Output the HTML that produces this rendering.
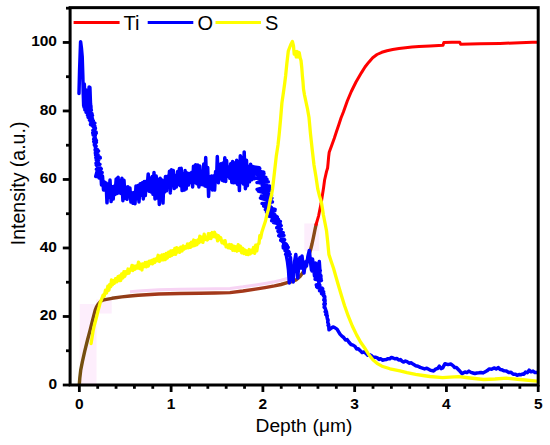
<!DOCTYPE html>
<html><head><meta charset="utf-8"><style>
html,body{margin:0;padding:0;background:#fff;}
body{width:550px;height:445px;overflow:hidden;}
svg{display:block;}
text{font-family:"Liberation Sans",sans-serif;fill:#000;}
.tk{font-weight:bold;font-size:15.5px;}
</style></head><body>
<svg width="550" height="445" viewBox="0 0 550 445">
<defs>
<linearGradient id="tig" gradientUnits="userSpaceOnUse" x1="79" y1="0" x2="317" y2="0">
<stop offset="0" stop-color="#72500f"/>
<stop offset="0.12" stop-color="#864014"/>
<stop offset="0.3" stop-color="#a3381a"/>
<stop offset="0.8" stop-color="#a3381a"/>
<stop offset="0.92" stop-color="#8a4a18"/>
<stop offset="1" stop-color="#8a4a18"/>
</linearGradient>
</defs>
<rect x="0" y="0" width="550" height="445" fill="#fff"/>
<!-- pink highlights -->
<rect x="79.7" y="304" width="16.8" height="80" fill="#fdeefc"/><rect x="96.2" y="299.5" width="15.5" height="14" fill="#fdeefc"/>
<rect x="304.3" y="223.5" width="15" height="27.5" fill="#fdeefc"/>
<polyline points="130.0,291.8 138.2,291.1 158.9,289.8 180.0,289.3 200.0,289.0 215.0,288.8 230.0,288.4 243.0,286.8 255.5,284.9 265.0,283.4 274.5,281.7 281.0,280.3 287.3,278.5" fill="none" stroke="#f7d4f4" stroke-width="3"/>
<!-- curves -->
<polyline points="79.3,384.5 79.8,378.0 80.7,370.2 82.4,361.6 84.8,350.8 87.5,340.0 90.1,330.3 92.6,320.2 95.2,310.1 96.7,306.5 98.2,304.0 99.7,302.3 101.2,301.0 104.0,299.8 106.5,299.3 112.0,298.3 121.8,296.9 130.0,296.0 138.2,295.3 158.9,294.0 180.0,293.5 200.0,293.2 215.0,293.0 230.0,292.6 243.0,291.0 255.5,289.1 265.0,287.6 274.5,285.9 281.0,284.5 287.3,282.7 292.0,281.5 296.0,280.0 300.0,276.5 303.6,271.4 306.0,265.0 308.0,258.0 310.5,250.0 312.0,244.0 313.5,237.0 314.9,230.0 316.1,224.5" fill="none" stroke="url(#tig)" stroke-width="3.4" stroke-linejoin="round" stroke-linecap="round"/>
<polyline points="316.1,224.5 318.6,215.8 321.1,203.4 323.6,187.4 324.6,180.0 326.5,171.6 327.6,168.0 328.1,163.0 328.7,156.2 329.2,152.3 331.5,146.1 334.3,138.2 336.5,131.5 338.8,124.7 341.0,118.0 343.4,112.0 347.3,101.0 351.3,91.5 356.0,82.0 361.5,72.6 365.0,67.0 368.6,62.4 372.7,57.7 377.0,54.5 381.8,52.3 387.0,50.7 392.7,49.5 399.0,48.5 405.5,47.7 412.0,47.0 419.0,46.5 430.0,45.9 443.0,45.2 443.8,42.6 452.0,42.3 459.8,42.3 460.6,44.3 480.0,43.8 500.0,43.4 520.0,42.8 532.7,42.3 537.0,42.2" fill="none" stroke="#ff0000" stroke-width="3" stroke-linejoin="round" stroke-linecap="round"/>
<polyline points="79.0,93.5 79.6,70.0 80.6,41.8 81.4,48.0 82.2,57.0 82.8,75.0 83.3,95.0 83.7,106.0 84.3,84.0 85.0,100.0 85.6,108.0 86.2,90.0 86.9,112.0 87.5,98.0 88.4,106.0 89.1,87.0 89.9,87.5 90.5,104.0 91.0,108.0 84.3,104.0 91.0,106.3 84.1,107.2 90.9,106.7 84.9,109.9 91.4,110.1 85.9,110.8 91.9,113.6 86.1,112.3 90.6,113.5 87.5,115.2 92.5,115.4 88.2,117.5 92.4,118.5 89.5,120.2 93.3,120.7 90.3,121.3 94.8,123.1 90.5,124.5 94.8,126.2 92.6,126.0 95.3,128.0 92.9,130.2 95.4,128.6 92.8,132.6 96.1,132.1 92.9,133.5 96.3,133.2 93.2,135.0 95.3,135.6 93.7,139.0 95.5,138.5 93.8,141.4 96.4,140.6 94.1,142.5 96.4,142.2 94.4,144.9 96.1,146.2 94.9,145.9 96.3,149.7 95.1,149.6 97.4,149.5 95.3,150.6 98.6,151.1 95.4,153.1 98.0,154.7 95.5,154.7 100.0,157.3 95.8,157.6 100.3,158.0 97.1,158.4 98.5,160.3 96.2,159.7 98.5,163.3 96.0,163.1 99.9,164.5 96.2,164.8 98.9,168.0 97.7,168.9 101.3,168.7 96.4,169.3 101.0,172.3 98.8,173.4 102.1,172.5 97.3,173.4 100.8,176.5 95.7,176.5 97.5,170.0 99.0,178.0 100.5,168.0 101.5,185.0 102.5,176.0 103.5,190.0 104.2,181.7 105.0,189.4 106.1,182.9 107.0,202.8 108.1,183.9 109.1,197.2 110.0,180.0 111.1,201.6 112.3,186.7 113.2,199.1 114.0,186.3 115.0,194.6 116.2,178.9 117.1,193.5 118.1,177.2 119.0,192.8 119.9,180.8 120.9,193.4 121.9,178.3 122.9,200.7 124.0,180.3 125.1,198.3 126.1,187.3 127.0,199.3 127.9,186.7 128.9,196.3 129.9,187.9 130.9,202.1 131.9,192.8 133.0,203.3 133.9,192.4 135.0,203.7 136.0,185.9 136.8,198.8 138.0,185.6 139.0,202.0 140.2,183.7 141.2,195.2 142.3,182.7 143.3,199.0 144.2,181.6 145.3,195.6 146.2,181.3 147.0,189.3 148.2,173.9 149.0,191.2 149.9,178.0 151.0,191.9 152.2,176.5 153.0,194.3 154.0,172.6 155.0,198.9 156.2,176.1 157.2,198.0 158.3,179.4 159.3,204.5 160.2,178.3 161.1,196.8 162.0,179.9 163.0,203.1 163.8,182.0 164.7,192.0 165.5,176.4 166.5,190.8 167.5,176.3 168.4,186.6 169.5,171.2 170.3,192.9 171.4,169.8 172.3,184.4 173.3,170.6 174.2,188.6 175.2,175.6 176.4,186.9 177.6,171.4 178.4,184.2 179.4,168.5 180.2,185.7 181.2,168.2 182.1,190.6 183.1,174.3 184.2,190.1 185.1,170.5 186.2,189.0 187.3,172.9 188.4,185.1 189.4,173.5 190.6,182.5 191.7,172.3 192.6,187.0 193.5,166.2 194.6,182.5 195.6,164.8 196.8,183.7 197.8,165.0 198.9,186.9 199.8,166.1 200.9,184.4 201.8,171.4 202.9,184.8 203.8,163.9 204.9,185.9 205.7,157.6 206.7,186.6 207.7,167.5 208.6,196.4 209.5,176.5 210.3,186.6 211.5,176.1 212.4,189.9 213.4,175.9 214.6,190.1 215.6,171.5 216.5,181.4 217.3,156.6 218.3,182.8 219.2,165.0 220.0,176.4 220.9,163.8 222.0,180.2 223.0,162.9 223.9,181.1 224.8,157.8 225.7,181.4 226.6,160.6 227.5,176.4 228.7,167.0 229.8,178.3 230.7,163.7 231.8,182.4 232.6,161.4 233.6,182.8 234.7,163.0 235.7,182.7 236.7,160.2 237.6,184.4 238.5,168.7 239.4,190.6 240.3,155.8 241.2,182.2 242.3,157.4 243.3,184.0 244.2,151.9 245.4,188.7 246.5,160.2 247.4,185.7 248.3,166.3 249.5,181.8 250.6,164.2 251.6,179.8 252.8,166.6 254.0,178.8 251.4,166.5 259.2,167.8 252.0,168.8 259.8,168.6 253.6,170.2 263.7,172.1 252.7,171.6 264.0,173.7 254.6,173.5 265.8,177.3 258.3,177.0 267.0,179.4 254.6,177.8 265.8,180.1 257.0,182.6 268.3,181.8 257.7,182.4 266.3,184.6 262.1,185.0 269.5,186.0 257.1,189.4 270.2,188.3 259.5,191.6 270.3,190.2 258.3,191.1 270.8,194.5 261.4,196.1 271.5,195.1 262.3,196.0 271.9,198.2 260.4,198.1 272.4,201.9 266.4,200.5 270.0,203.4 262.0,203.4 269.4,203.6 266.9,204.1 271.4,207.4 263.7,206.1 275.1,209.5 265.3,209.4 274.9,210.8 266.5,212.0 274.7,214.7 271.6,213.3 277.3,217.0 268.8,216.2 278.4,219.3 272.1,219.7 277.7,220.6 271.6,220.8 280.4,221.6 273.5,222.5 280.2,224.1 276.9,227.4 281.2,225.7 276.8,227.9 281.4,229.3 278.0,231.2 282.2,232.4 278.4,232.0 283.2,232.8 278.8,235.7 284.0,235.4 280.0,236.3 284.6,239.8 280.7,240.2 284.2,239.2 281.2,240.6 286.3,244.2 283.6,243.8 286.0,246.2 283.1,246.1 287.3,245.6 283.3,247.9 288.2,247.3 284.8,248.8 289.0,251.7 285.0,250.7 289.4,253.4 285.6,254.4 290.2,254.3 286.5,256.4 287.5,262.0 288.5,270.0 289.3,283.0 290.5,257.5 291.5,279.0 292.5,270.0 293.2,282.0 294.5,262.0 295.8,254.5 296.8,266.0 297.8,278.0 299.0,260.0 300.0,257.5 301.0,268.0 302.0,256.0 303.0,265.0 304.0,273.0 305.2,262.0 306.5,266.0 308.0,256.0 309.3,250.5 310.5,262.0 311.5,270.0 312.5,259.0 313.5,266.0 314.5,276.0 315.5,263.0 316.5,270.0 317.5,280.0 318.5,264.0 319.3,261.5 320.0,272.0 312.0,271.1 320.3,270.5 312.7,271.2 320.5,274.9 316.1,274.9 321.0,276.1 316.8,275.9 321.0,278.3 315.1,279.2 321.4,280.5 318.4,280.9 319.3,284.1 316.3,285.0 319.9,285.2 316.7,287.0 322.2,288.1 317.4,287.5 322.7,289.0 319.6,290.9 323.6,291.8 321.6,293.8 323.9,293.9 322.8,294.6 324.7,296.5 323.5,295.7 324.8,297.5 324.0,299.4 325.0,299.3 323.8,300.1 325.1,301.0 323.9,304.3 325.3,303.5 324.1,307.3 325.1,308.3 324.8,307.1 326.0,310.8 325.2,311.7 326.5,311.7 325.8,314.6 326.7,313.3 326.7,314.6 327.3,315.9 326.8,316.2 327.6,319.8 327.4,318.4 328.1,320.2 327.7,322.2 328.7,324.8 328.1,325.3 328.7,325.6 329.0,329.8 331.0,328.4 333.0,326.9 334.7,327.6 337.0,329.1 340.0,334.1 341.9,336.1 343.7,337.5 345.5,340.1 347.2,339.6 349.0,342.3 351.0,344.5 353.0,345.1 355.0,346.4 356.7,349.0 358.3,348.7 360.0,350.4 362.1,352.6 364.1,351.9 366.2,353.5 367.8,355.2 369.4,354.7 371.0,355.3 373.1,357.3 375.3,357.2 377.4,357.9 379.1,359.4 380.8,358.7 382.5,360.2 384.2,359.8 386.1,359.6 388.0,358.7 389.7,358.8 391.4,357.4 393.1,358.0 395.1,358.8 397.0,358.5 398.7,360.1 400.4,359.6 402.1,361.3 403.7,362.1 405.4,361.1 407.0,361.7 409.1,363.2 411.3,362.8 413.4,364.3 415.7,365.7 418.0,366.2 420.2,367.4 422.4,368.1 424.6,368.9 426.8,368.2 430.0,370.1 431.8,370.6 433.6,370.9 436.0,368.9 437.6,368.5 439.3,366.2 441.0,368.6 442.7,367.9 445.0,363.7 448.0,364.6 450.7,364.0 453.0,365.6 454.7,367.5 456.4,367.5 459.0,370.2 462.0,373.6 465.0,372.0 466.9,372.6 468.9,371.1 470.9,372.4 473.0,373.0 474.9,373.5 476.8,373.0 478.9,372.8 481.0,372.5 482.9,372.9 484.8,372.0 487.0,370.8 489.3,368.9 491.6,369.3 494.0,367.9 496.2,368.9 498.4,367.6 500.2,369.5 502.0,369.8 504.2,370.8 506.4,371.0 508.7,372.4 511.0,372.2 513.2,374.2 515.5,374.2 517.2,375.3 519.0,374.5 520.6,374.8 522.3,374.1 523.9,374.2 525.5,372.1 527.3,372.7 529.1,370.2 531.0,371.8 533.0,371.1 535.0,372.6 537.0,372.6" fill="none" stroke="#0000ff" stroke-width="3.5" stroke-linejoin="round" stroke-linecap="round"/>
<polyline points="91.1,343.5 92.2,336.5 93.2,330.3 94.4,325.0 95.7,320.2 97.0,315.0 98.2,310.1 99.2,306.5 100.2,302.5 101.5,299.5 103.0,295.3 104.2,296.2 105.5,290.2 106.6,293.0 107.8,286.2 108.9,290.2 109.8,284.3 110.7,286.8 111.5,280.0 112.4,284.8 113.3,280.7 114.4,283.2 115.5,278.6 116.7,281.9 118.0,276.7 118.8,280.6 119.6,276.0 120.7,280.5 121.7,273.8 122.9,278.0 123.9,271.7 124.8,276.4 125.8,271.7 127.0,273.7 128.0,269.0 129.0,273.2 129.9,269.2 131.1,270.0 132.0,265.4 132.8,270.6 134.0,266.0 135.0,269.2 136.2,266.0 137.4,268.1 138.5,262.1 139.7,268.7 140.6,264.2 141.9,270.0 142.7,263.9 143.9,266.7 145.2,262.5 146.3,266.9 147.4,262.3 148.3,266.1 149.4,261.1 150.6,263.5 151.6,260.4 152.5,263.8 153.8,259.5 154.7,262.5 155.6,258.9 156.9,260.8 158.1,255.3 159.4,261.5 160.4,256.0 161.3,260.0 162.1,254.9 163.3,259.8 164.3,254.5 165.3,259.6 166.3,253.3 167.3,258.2 168.6,252.1 169.8,256.4 170.8,250.8 171.7,255.5 172.8,250.8 173.8,254.4 174.8,248.4 175.7,254.3 176.7,247.7 177.5,252.1 178.7,248.4 179.6,252.4 180.7,247.2 182.0,251.0 183.2,245.9 184.2,249.1 185.5,246.6 186.5,247.9 187.5,244.0 188.4,247.7 189.6,243.8 190.5,247.4 191.4,242.1 192.6,246.1 193.7,240.0 194.7,245.7 195.9,240.8 197.0,244.7 198.0,239.9 198.9,242.8 199.8,236.1 200.8,241.7 201.8,237.2 202.9,242.4 204.2,234.1 205.4,239.5 206.6,237.1 207.4,240.0 208.4,233.6 209.3,238.5 210.2,233.6 211.0,238.5 212.2,232.5 213.4,236.6 214.6,232.3 215.6,237.2 216.5,234.8 217.6,240.9 218.4,235.7 219.5,239.6 220.7,237.6 221.9,242.7 222.9,241.0 224.0,243.8 225.1,240.6 226.1,246.9 227.1,244.9 228.3,247.8 229.5,244.5 230.6,248.2 231.6,244.8 232.8,250.3 233.8,246.2 234.8,250.5 236.0,246.8 237.0,251.2 238.2,244.7 239.4,250.5 240.4,246.2 241.6,252.8 242.8,248.3 243.9,253.6 245.0,250.0 246.2,254.3 247.0,251.0 248.2,254.6 249.2,249.5 250.3,253.8 251.3,250.1 252.4,252.6 253.5,247.4 254.7,253.3 255.7,245.2 256.8,250.9 257.9,244.2 259.0,243.4 259.8,235.6 260.6,238.1 261.9,231.9 263.5,227.0 265.5,221.0 267.0,214.0 268.5,209.0 270.0,201.0 271.5,195.0 272.5,189.2 274.5,172.0 276.3,156.0 278.0,145.0 279.2,134.0 280.5,120.0 281.9,103.0 283.5,92.0 284.6,84.0 285.6,76.0 286.8,64.0 288.3,51.0 290.6,45.0 292.4,41.4 293.5,46.0 294.2,54.0 295.2,51.5 296.2,57.0 297.2,51.5 298.2,57.0 299.2,52.5 300.2,58.0 301.0,60.5 301.8,68.0 302.4,76.0 303.0,82.0 303.5,89.0 304.5,95.0 306.0,102.0 307.5,109.0 309.0,117.5 310.5,134.0 312.4,151.3 314.0,165.0 316.0,177.0 317.8,189.2 319.5,196.0 321.4,202.3 322.5,209.0 323.4,215.0 325.0,223.0 326.5,230.7 327.7,242.0 328.9,254.4 331.2,261.5 333.6,268.5 336.0,277.0 338.3,285.0 341.5,295.7 344.5,305.5 348.3,316.2 352.3,326.0 356.7,335.1 360.5,342.0 364.5,347.7 368.7,354.5 372.9,359.8 377.0,363.3 381.9,366.2 390.0,368.8 399.9,370.9 407.0,372.6 415.6,374.3 423.0,375.5 430.0,376.5 442.7,377.7 450.0,377.2 458.6,376.6 470.0,378.0 483.6,379.5 495.0,379.0 506.4,378.2 520.0,379.5 537.0,381.1" fill="none" stroke="#ffff00" stroke-width="3.3" stroke-linejoin="round" stroke-linecap="round"/>
<!-- frame -->
<rect x="70.1" y="7.65" width="468.1" height="377.35" fill="none" stroke="#000" stroke-width="3"/>
<line x1="62.8" y1="385.00" x2="70" y2="385.00" stroke="#000" stroke-width="2.8"/>
<text class="tk" x="57" y="388.80" text-anchor="end">0</text>
<line x1="66" y1="350.75" x2="70" y2="350.75" stroke="#000" stroke-width="2.8"/>
<line x1="62.8" y1="316.49" x2="70" y2="316.49" stroke="#000" stroke-width="2.8"/>
<text class="tk" x="57" y="320.29" text-anchor="end">20</text>
<line x1="66" y1="282.24" x2="70" y2="282.24" stroke="#000" stroke-width="2.8"/>
<line x1="62.8" y1="247.98" x2="70" y2="247.98" stroke="#000" stroke-width="2.8"/>
<text class="tk" x="57" y="251.78" text-anchor="end">40</text>
<line x1="66" y1="213.72" x2="70" y2="213.72" stroke="#000" stroke-width="2.8"/>
<line x1="62.8" y1="179.47" x2="70" y2="179.47" stroke="#000" stroke-width="2.8"/>
<text class="tk" x="57" y="183.27" text-anchor="end">60</text>
<line x1="66" y1="145.22" x2="70" y2="145.22" stroke="#000" stroke-width="2.8"/>
<line x1="62.8" y1="110.96" x2="70" y2="110.96" stroke="#000" stroke-width="2.8"/>
<text class="tk" x="57" y="114.76" text-anchor="end">80</text>
<line x1="66" y1="76.70" x2="70" y2="76.70" stroke="#000" stroke-width="2.8"/>
<line x1="62.8" y1="42.45" x2="70" y2="42.45" stroke="#000" stroke-width="2.8"/>
<text class="tk" x="57" y="46.25" text-anchor="end">100</text>
<line x1="66" y1="8.19" x2="70" y2="8.19" stroke="#000" stroke-width="2.8"/>
<line x1="79.35" y1="385" x2="79.35" y2="392" stroke="#000" stroke-width="2.8"/>
<text class="tk" x="79.35" y="409" text-anchor="middle">0</text>
<line x1="97.70" y1="385" x2="97.70" y2="388.8" stroke="#000" stroke-width="2.8"/>
<line x1="116.06" y1="385" x2="116.06" y2="388.8" stroke="#000" stroke-width="2.8"/>
<line x1="134.41" y1="385" x2="134.41" y2="388.8" stroke="#000" stroke-width="2.8"/>
<line x1="152.77" y1="385" x2="152.77" y2="388.8" stroke="#000" stroke-width="2.8"/>
<line x1="171.12" y1="385" x2="171.12" y2="392" stroke="#000" stroke-width="2.8"/>
<text class="tk" x="171.12" y="409" text-anchor="middle">1</text>
<line x1="189.47" y1="385" x2="189.47" y2="388.8" stroke="#000" stroke-width="2.8"/>
<line x1="207.83" y1="385" x2="207.83" y2="388.8" stroke="#000" stroke-width="2.8"/>
<line x1="226.18" y1="385" x2="226.18" y2="388.8" stroke="#000" stroke-width="2.8"/>
<line x1="244.54" y1="385" x2="244.54" y2="388.8" stroke="#000" stroke-width="2.8"/>
<line x1="262.89" y1="385" x2="262.89" y2="392" stroke="#000" stroke-width="2.8"/>
<text class="tk" x="262.89" y="409" text-anchor="middle">2</text>
<line x1="281.24" y1="385" x2="281.24" y2="388.8" stroke="#000" stroke-width="2.8"/>
<line x1="299.60" y1="385" x2="299.60" y2="388.8" stroke="#000" stroke-width="2.8"/>
<line x1="317.95" y1="385" x2="317.95" y2="388.8" stroke="#000" stroke-width="2.8"/>
<line x1="336.31" y1="385" x2="336.31" y2="388.8" stroke="#000" stroke-width="2.8"/>
<line x1="354.66" y1="385" x2="354.66" y2="392" stroke="#000" stroke-width="2.8"/>
<text class="tk" x="354.66" y="409" text-anchor="middle">3</text>
<line x1="373.01" y1="385" x2="373.01" y2="388.8" stroke="#000" stroke-width="2.8"/>
<line x1="391.37" y1="385" x2="391.37" y2="388.8" stroke="#000" stroke-width="2.8"/>
<line x1="409.72" y1="385" x2="409.72" y2="388.8" stroke="#000" stroke-width="2.8"/>
<line x1="428.08" y1="385" x2="428.08" y2="388.8" stroke="#000" stroke-width="2.8"/>
<line x1="446.43" y1="385" x2="446.43" y2="392" stroke="#000" stroke-width="2.8"/>
<text class="tk" x="446.43" y="409" text-anchor="middle">4</text>
<line x1="464.78" y1="385" x2="464.78" y2="388.8" stroke="#000" stroke-width="2.8"/>
<line x1="483.14" y1="385" x2="483.14" y2="388.8" stroke="#000" stroke-width="2.8"/>
<line x1="501.49" y1="385" x2="501.49" y2="388.8" stroke="#000" stroke-width="2.8"/>
<line x1="519.85" y1="385" x2="519.85" y2="388.8" stroke="#000" stroke-width="2.8"/>
<line x1="538.20" y1="385" x2="538.20" y2="392" stroke="#000" stroke-width="2.8"/>
<text class="tk" x="538.20" y="409" text-anchor="middle">5</text>
<text x="255.6" y="431.5" font-size="19.2">Depth</text><text x="312.6" y="431.5" font-size="19.2">(μm)</text>
<text transform="translate(24.7,183.4) rotate(-90)" text-anchor="middle" font-size="19.5">Intensity (a.u.)</text>
<line x1="73.6" y1="22.5" x2="119.6" y2="22.5" stroke="#ff0000" stroke-width="3.2"/>
<text x="123.5" y="29.5" font-size="20">Ti</text>
<line x1="147.7" y1="22.5" x2="193.3" y2="22.5" stroke="#0000ff" stroke-width="3.2"/>
<text x="197.5" y="29.5" font-size="20">O</text>
<line x1="215.5" y1="22.5" x2="261" y2="22.5" stroke="#ffff00" stroke-width="3.2"/>
<text x="265" y="29.5" font-size="20">S</text>
</svg>
</body></html>
